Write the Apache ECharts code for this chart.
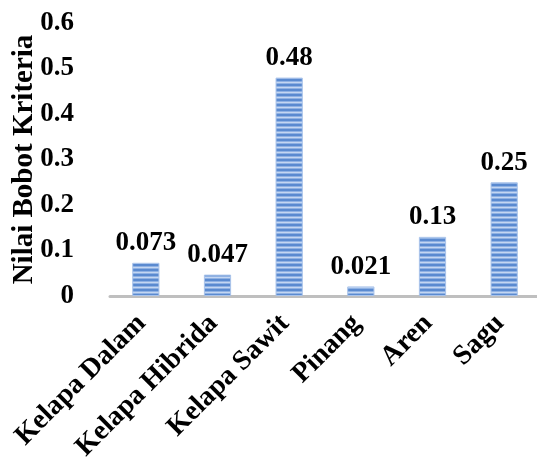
<!DOCTYPE html>
<html><head><meta charset="utf-8">
<script src="https://cdn.jsdelivr.net/npm/echarts@6/dist/echarts.min.js"></script>
<style>html,body{margin:0;padding:0;background:#fff}#c{width:537px;height:471px}</style>
</head><body><div id="c"></div>
<script>
const categories = ['Kelapa Dalam', 'Kelapa Hibrida', 'Kelapa Sawit', 'Pinang', 'Aren', 'Sagu'];
const values = [0.073, 0.047, 0.48, 0.021, 0.13, 0.25];
const valueLabels = ['0.073', '0.047', '0.48', '0.021', '0.13', '0.25'];
const yAxisTitle = 'Nilai Bobot Kriteria';

const FONT = "'Liberation Serif', 'Times New Roman', serif";

const pc = document.createElement('canvas');
pc.width = 8; pc.height = 5;
const px = pc.getContext('2d');
px.fillStyle = '#5a8ad0'; px.fillRect(0, 0, 8, 5);
px.fillStyle = '#8fb1e3'; px.fillRect(0, 1, 8, 1);
px.fillStyle = '#c3d6f2'; px.fillRect(0, 2, 8, 1);
px.fillStyle = '#8fb1e3'; px.fillRect(0, 3, 8, 1);

const chart = echarts.init(document.getElementById('c'));
chart.setOption({
  animation: false,
  grid: { left: 110, top: 23, width: 430, height: 273, outerBoundsMode: 'none', containLabel: false },
  xAxis: {
    type: 'category',
    data: categories,
    axisLine: { lineStyle: { color: '#BFBFBF', width: 3 } },
    axisTick: { show: false },
    axisLabel: {
      rotate: 45, interval: 0, margin: 19, padding: [0, 6, 0, 0],
      color: '#000', fontFamily: FONT, fontWeight: 'bold', fontSize: 28
    }
  },
  yAxis: {
    type: 'value', min: 0, max: 0.6, interval: 0.1,
    name: yAxisTitle, nameLocation: 'middle', nameGap: 71, nameMoveOverlap: false,
    nameTextStyle: { color: '#000', fontFamily: FONT, fontWeight: 'bold', fontSize: 29 },
    axisLine: { show: false }, axisTick: { show: false },
    splitLine: { show: false },
    axisLabel: { margin: 36, color: '#000', fontFamily: FONT, fontWeight: 'bold', fontSize: 27 }
  },
  series: [{
    type: 'bar',
    data: values,
    barWidth: '38%',
    itemStyle: { color: { image: pc, repeat: 'repeat' }, borderColor: '#a9c3ea', borderWidth: 1 },
    label: {
      show: true, position: 'top', distance: 6,
      formatter: p => valueLabels[p.dataIndex],
      color: '#000', fontFamily: FONT, fontWeight: 'bold', fontSize: 27
    }
  }]
});
</script></body></html>
